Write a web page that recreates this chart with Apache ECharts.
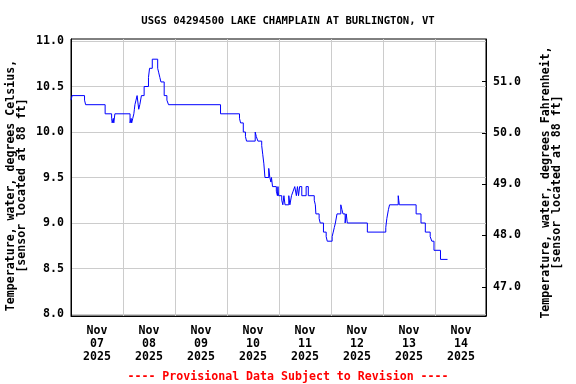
<!DOCTYPE html>
<html>
<head>
<meta charset="utf-8">
<script src="https://cdn.jsdelivr.net/npm/echarts@6/dist/echarts.min.js"></script>
<style>html,body{margin:0;padding:0;background:#fff}#chart{width:576px;height:384px}</style>
</head>
<body>
<div id="chart"></div>
<script>
// Hours since Nov 07 2025 00:00 and water temperature (deg C)
const hours = [0, 0.5, 6.25, 6.75, 15.75, 18.75, 19.0, 19.5, 19.75, 20.25,
  27.25, 27.75, 28.0, 28.5, 29.0, 29.25, 29.5, 30.0, 30.5, 31.25, 31.75, 32.5,
  33.75, 35.75, 36.25, 37.5, 40.0, 40.5, 41.0, 41.5, 43.0, 44.25, 45.0,
  69.0, 77.75, 78.25, 79.5, 80.5, 81.0, 85.0, 85.5, 86.25, 88.0, 88.5, 89.0, 89.5,
  91.25, 91.75, 92.25, 92.5, 93.0, 94.75, 95.25, 95.5, 95.75, 97.25, 97.75,
  98.25, 98.75, 100.5, 101.0, 101.75, 102.5, 103.25, 104.0, 104.5, 105.0, 105.5,
  106.5, 108.5, 109.5, 112.25, 112.75, 113.0, 114.5, 115.0, 116.5, 117.75, 118.25,
  120.5, 121.0, 121.5, 122.0, 122.75, 124.5, 125.0, 125.5, 126.5, 127.0, 127.5,
  136.75, 145.25, 145.75, 146.5, 147.0, 151.0, 151.25, 151.5, 159.25, 161.5,
  163.5, 165.75, 166.5, 167.5, 170.5, 173.75];
const tempC = [10.35, 10.4, 10.35, 10.3, 10.2, 10.15, 10.1, 10.15, 10.1, 10.2,
  10.1, 10.15, 10.1, 10.15, 10.2, 10.25, 10.3, 10.35, 10.4, 10.25, 10.3, 10.4,
  10.5, 10.6, 10.7, 10.8, 10.7, 10.65, 10.6, 10.55, 10.4, 10.35, 10.3,
  10.2, 10.15, 10.1, 10.0, 9.95, 9.9, 10.0, 9.95, 9.9, 9.85, 9.75, 9.65, 9.5,
  9.6, 9.5, 9.45, 9.5, 9.4, 9.35, 9.3, 9.4, 9.3, 9.25, 9.2,
  9.3, 9.2, 9.3, 9.2, 9.3, 9.35, 9.4, 9.3, 9.4, 9.3, 9.4,
  9.3, 9.4, 9.3, 9.25, 9.2, 9.1, 9.05, 9.0, 8.9, 8.85, 8.8,
  8.85, 8.9, 8.95, 9.0, 9.1, 9.2, 9.15, 9.1, 9.0, 9.1, 9.0,
  8.9, 8.95, 9.05, 9.15, 9.2, 9.3, 9.25, 9.2, 9.1, 9.0,
  8.9, 8.85, 8.8, 8.7, 8.6, 8.6];

const dayLabels = ['Nov\n07\n2025', 'Nov\n08\n2025', 'Nov\n09\n2025', 'Nov\n10\n2025',
  'Nov\n11\n2025', 'Nov\n12\n2025', 'Nov\n13\n2025', 'Nov\n14\n2025'];
const labelHours = [12, 36, 60, 84, 108, 132, 156, 180];
const midnightHours = [0, 24, 48, 72, 96, 120, 144, 168];
const ticksC = [8.0, 8.5, 9.0, 9.5, 10.0, 10.5, 11.0];
const ticksF = [47, 48, 49, 50, 51];

const FONT = 'DejaVu Sans Mono';
const chart = echarts.init(document.getElementById('chart'), null, {renderer: 'canvas'});
chart.setOption({
  animation: false,
  backgroundColor: '#fff',
  title: [
    {text: 'USGS 04294500 LAKE CHAMPLAIN AT BURLINGTON, VT', left: 'center', top: 11,
     textStyle: {fontFamily: FONT, fontWeight: 'bold', fontSize: 10.6, color: '#000'}},
    {text: '---- Provisional Data Subject to Revision ----', left: 'center', top: 366,
     textStyle: {fontFamily: FONT, fontWeight: 'bold', fontSize: 11.6, color: '#ff0000'}}
  ],
  grid: {left: 71, right: 90, top: 39, bottom: 68, show: true, borderColor: '#000', borderWidth: 1,
    containLabel: false, outerBoundsMode: 'none'},
  xAxis: {
    type: 'value', min: 0, max: 191.5,
    axisLine: {show: true, lineStyle: {color: '#000', width: 1}},
    axisTick: {show: false, customValues: midnightHours},
    splitLine: {show: true, lineStyle: {color: '#cccccc', width: 1}},
    axisLabel: {
      customValues: labelHours, margin: 8, lineHeight: 13,
      fontFamily: FONT, fontWeight: 'bold', fontSize: 11.6, color: '#000',
      formatter: function (v) { return dayLabels[labelHours.indexOf(Math.round(v))] || ''; }
    }
  },
  yAxis: [
    {
      type: 'value', min: 7.978, max: 11.022, position: 'left',
      name: 'Temperature, water, degrees Celsius,\n[sensor located at 88 ft]',
      nameLocation: 'middle', nameGap: 44, nameRotate: 90, nameMoveOverlap: false,
      nameTextStyle: {fontFamily: FONT, fontWeight: 'bold', fontSize: 11.6, color: '#000', lineHeight: 11,
        align: 'center', padding: [0, 16, 0, 0]},
      axisLine: {show: true, lineStyle: {color: '#000'}},
      axisTick: {show: false, customValues: ticksC},
      splitLine: {show: true, lineStyle: {color: '#cccccc', width: 1}},
      axisLabel: {customValues: ticksC, margin: 7, fontFamily: FONT, fontWeight: 'bold', fontSize: 11.6, color: '#000',
        formatter: function (v) { return v.toFixed(1); }}
    },
    {
      type: 'value', min: 46.43, max: 51.83, position: 'right',
      name: 'Temperature, water, degrees Fahrenheit,\n[sensor located at 88 ft]',
      nameLocation: 'middle', nameGap: 54, nameRotate: 90,
      nameTextStyle: {fontFamily: FONT, fontWeight: 'bold', fontSize: 11.6, color: '#000', lineHeight: 11,
        align: 'center', padding: [0, 10, 0, 0]},
      axisLine: {show: true, lineStyle: {color: '#000'}},
      axisTick: {show: true, inside: true, length: 4, customValues: ticksF, lineStyle: {color: '#000'}},
      splitLine: {show: false},
      axisLabel: {customValues: ticksF, margin: 7, fontFamily: FONT, fontWeight: 'bold', fontSize: 11.6, color: '#000',
        formatter: function (v) { return v.toFixed(1); }}
    }
  ],
  series: [{
    type: 'line', step: 'end', showSymbol: false, yAxisIndex: 0,
    data: hours.map(function (h, i) { return [h, tempC[i]]; }),
    lineStyle: {color: '#0000ff', width: 1}
  }]
});
</script>
</body>
</html>
